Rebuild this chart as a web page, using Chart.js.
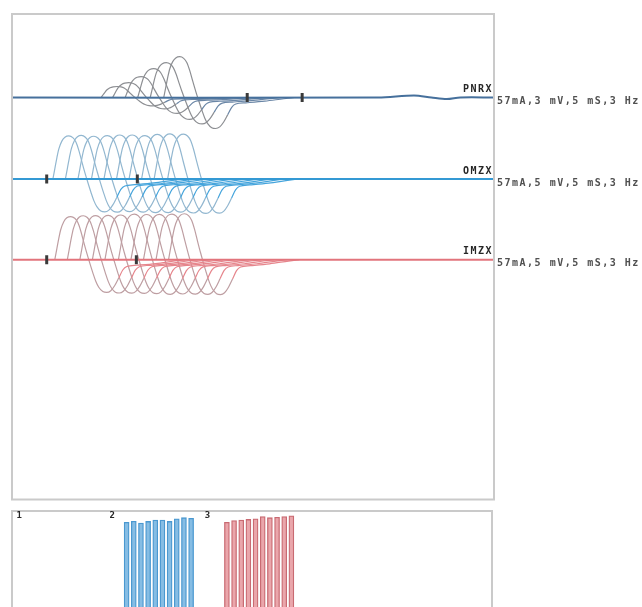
<!DOCTYPE html>
<html>
<head>
<meta charset="utf-8">
<script src="https://cdn.jsdelivr.net/npm/chart.js@4.4.1/dist/chart.umd.min.js"></script>
<style>
html, body { margin: 0; padding: 0; background: #fff; overflow: hidden; width: 642px; height: 607px; }
#main { position: absolute; left: 0; top: 0; }
#bars { position: absolute; left: 0; top: 505px; }
</style>
</head>
<body>
<canvas id="main" width="642" height="507"></canvas>
<canvas id="bars" width="642" height="120"></canvas>
<script>
// Forma da resposta (ms relativo ao pico, amplitude normalizada)
const templateMs    = [-1.66, -1.45, -1.24, -1.04, -0.73, -0.41, 0, 0.41, 0.73, 1.04, 1.35, 1.66, 1.97, 2.28, 2.59, 2.90, 3.32, 3.73, 4.15, 4.56, 4.98, 5.39, 5.81, 6.85, 8.82, 10.79, 11.9];
const templateShape = [0, 0.25, 0.5, 0.7, 0.88, 0.97, 1, 0.96, 0.86, 0.66, 0.4, 0.15, -0.08, -0.3, -0.5, -0.64, -0.74, -0.76, -0.72, -0.6, -0.42, -0.24, -0.16, -0.13, -0.09, -0.03, 0];
const tailStart = 20;

// Canal 1 (PNRX)
const ch1Latency = [10.9, 12.1, 13.4, 14.7, 16.0, 17.4];
const ch1Amp     = [0.68, 0.92, 1.29, 1.78, 2.15, 2.52];
const ch1Markers = [24.4, 30.1];
const ch1BaseX   = [0, 38, 41.7, 43.5, 45.1, 46.5, 50];
const ch1BaseV   = [0, 0, 0.13, 0, -0.1, 0, 0];

// Canal 2 (OMZX)
const ch2Latency = [5.9, 7.2, 8.5, 9.9, 11.2, 12.5, 13.8, 15.1, 16.4, 17.8];
const ch2Amp     = [4.44, 4.49, 4.41, 4.48, 4.54, 4.54, 4.48, 4.60, 4.65, 4.62];
const ch2Markers = [3.6, 13.0];
const ch2BaseX   = [0, 50];
const ch2BaseV   = [0, 0];

// Canal 3 (IMZX)
const ch3Latency = [6.1, 7.4, 8.7, 10.0, 11.3, 12.7, 14.0, 15.3, 16.6, 17.9];
const ch3Amp     = [4.44, 4.52, 4.54, 4.57, 4.60, 4.70, 4.65, 4.67, 4.70, 4.73];
const ch3Markers = [3.6, 12.9];
const ch3BaseX   = [0, 50];
const ch3BaseV   = [0, 0];

const channelNames    = ['PNRX', 'OMZX', 'IMZX'];
const channelSettings = ['57mA,3 mV,5 mS,3 Hz', '57mA,5 mV,5 mS,3 Hz', '57mA,5 mV,5 mS,3 Hz'];

// Painel inferior (amplitudes)
const groupLabels = ['1', '2', '3'];
const groupSlots  = [1, 14, 27.3];
const ch1BarAmp   = [0.45, 0.45, 0.45, 0.45, 0.45, 0.45, 0.45, 0.45, 0.45, 0.45];

const channels = [
    { name: channelNames[0], setting: channelSettings[0], base: 8.28, mvPerDiv: 3, lat: ch1Latency, amp: ch1Amp, marks: ch1Markers, bx: ch1BaseX, bv: ch1BaseV, wave: '#8d8f93', tail: '#6a86a6', line: '#46709c' },
    { name: channelNames[1], setting: channelSettings[1], base: 6.60, mvPerDiv: 5, lat: ch2Latency, amp: ch2Amp, marks: ch2Markers, bx: ch2BaseX, bv: ch2BaseV, wave: '#92b7d0', tail: '#44a4dc', line: '#3499d4' },
    { name: channelNames[2], setting: channelSettings[2], base: 4.94, mvPerDiv: 5, lat: ch3Latency, amp: ch3Amp, marks: ch3Markers, bx: ch3BaseX, bv: ch3BaseV, wave: '#be9ea2', tail: '#e6858c', line: '#e2747c' }
];

const datasets = [];
channels.forEach(function(c) {
    datasets.push({
        type: 'scatter',
        data: c.marks.map(x => ({ x: x, y: c.base })),
        showLine: false,
        pointStyle: 'line',
        rotation: 90,
        pointRadius: 4.5,
        pointBorderWidth: 3,
        pointBorderColor: '#3a3a3a',
        order: 0
    });
    datasets.push({
        data: c.bx.map((x, i) => ({ x: x, y: c.base + c.bv[i] / c.mvPerDiv })),
        borderColor: c.line,
        borderWidth: 2,
        tension: 0.3,
        pointRadius: 0,
        order: 1
    });
    c.lat.forEach(function(lat, k) {
        datasets.push({
            data: templateMs.map((t, i) => ({ x: lat + t, y: c.base + c.amp[k] * templateShape[i] / c.mvPerDiv })),
            borderColor: c.wave,
            segment: { borderColor: s => s.p0DataIndex >= tailStart ? c.tail : c.wave },
            borderWidth: 1.2,
            cubicInterpolationMode: 'monotone',
            pointRadius: 0,
            order: 2
        });
    });
});

// Moldura e textos do painel principal
const mainDecor = {
    id: 'mainDecor',
    afterDraw(chart) {
        const ctx = chart.ctx;
        const a = chart.chartArea;
        const y = chart.scales.y;
        ctx.save();
        ctx.strokeStyle = '#cacaca';
        ctx.lineWidth = 2;
        ctx.strokeRect(a.left, a.top, a.right - a.left, a.bottom - a.top);
        ctx.letterSpacing = '1.5px';
        ctx.textBaseline = 'middle';
        channels.forEach(function(c) {
            const py = y.getPixelForValue(c.base);
            ctx.font = 'bold 10px "DejaVu Sans Mono"';
            ctx.fillStyle = '#262626';
            ctx.textAlign = 'right';
            ctx.fillText(c.name, a.right - 1, py - 8);
            ctx.fillStyle = '#505050';
            ctx.textAlign = 'left';
            ctx.fillText(c.setting, a.right + 3, py + 4);
        });
        ctx.restore();
    }
};

new Chart(document.getElementById('main'), {
    type: 'line',
    data: { datasets: datasets },
    options: {
        responsive: false,
        animation: false,
        devicePixelRatio: 1,
        layout: { padding: { left: 12, top: 14, right: 148, bottom: 5 } },
        plugins: { legend: { display: false }, tooltip: { enabled: false } },
        scales: {
            x: { type: 'linear', min: 0, max: 50, display: false },
            y: { type: 'linear', min: 0, max: 10, display: false }
        }
    },
    plugins: [mainDecor]
});

// Painel inferior
const barDecor = {
    id: 'barDecor',
    afterDraw(chart) {
        const ctx = chart.ctx;
        const a = chart.chartArea;
        const x = chart.scales.x;
        ctx.save();
        ctx.strokeStyle = '#cacaca';
        ctx.lineWidth = 2;
        ctx.strokeRect(a.left, a.top, a.right - a.left, a.bottom - a.top);
        ctx.font = 'bold 9px "DejaVu Sans Mono"';
        ctx.fillStyle = '#262626';
        ctx.textAlign = 'center';
        ctx.textBaseline = 'middle';
        groupLabels.forEach((g, i) => ctx.fillText(g, x.getPixelForValue(groupSlots[i]), a.top + 5));
        ctx.restore();
    }
};

function barSet(values, slot, fill, edge) {
    return {
        data: values.map((v, i) => ({ x: slot + 2 + i, y: v })),
        backgroundColor: fill,
        borderColor: edge,
        borderWidth: 1.3,
        barThickness: 5
    };
}

new Chart(document.getElementById('bars'), {
    type: 'bar',
    data: {
        datasets: [
            barSet(ch1BarAmp, groupSlots[0], '#e4e4e4', '#c8c8c8'),
            barSet(ch2Amp, groupSlots[1], '#86bde4', '#4a98d0'),
            barSet(ch3Amp, groupSlots[2], '#eaa6ab', '#c96a72')
        ]
    },
    options: {
        responsive: false,
        animation: false,
        devicePixelRatio: 1,
        layout: { padding: { left: 12, top: 6, right: 150, bottom: 4 } },
        plugins: { legend: { display: false }, tooltip: { enabled: false } },
        scales: {
            x: { type: 'linear', min: 0, max: 67, offset: false, display: false },
            y: { type: 'linear', min: 0, max: 4.95, display: false }
        }
    },
    plugins: [barDecor]
});
</script>
</body>
</html>
